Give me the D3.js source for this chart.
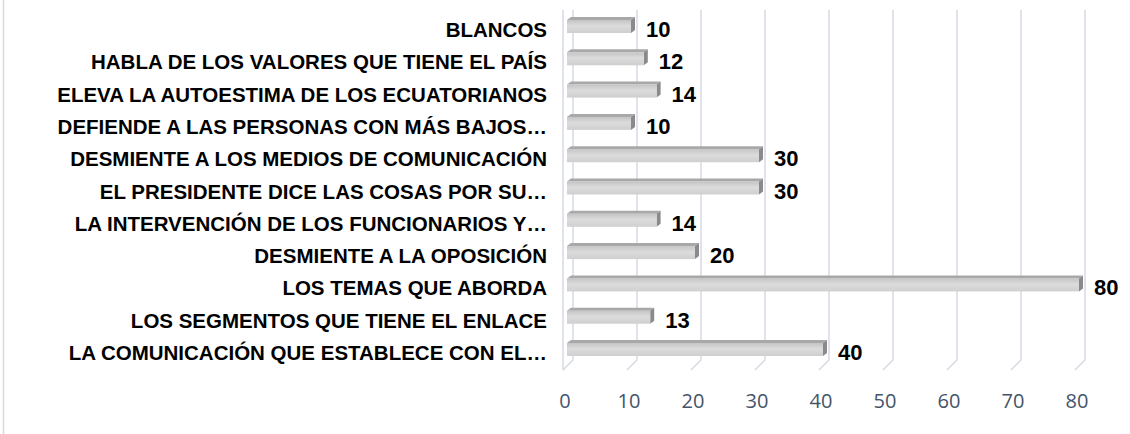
<!DOCTYPE html>
<html lang="es">
<head>
<meta charset="UTF-8">
<title>Chart</title>
<script src="https://d3js.org/d3.v7.min.js"></script>
<style>
    body { margin: 0; background: #fff; }
    .cat { font-family: "Liberation Sans", Arial, sans-serif; font-weight: bold; fill: #000; }
    .val { font-family: "Liberation Sans", Arial, sans-serif; font-weight: bold; fill: #000; }
    .tick { font-family: "Open Sans", "Noto Sans", sans-serif; fill: #44546a; }
</style>
</head>
<body>
<div id="chart"></div>
<script>
    // categories top to bottom, as in the picture
    const categories = [
        "BLANCOS",
        "HABLA DE LOS VALORES QUE TIENE EL PAÍS",
        "ELEVA LA AUTOESTIMA DE LOS ECUATORIANOS",
        "DEFIENDE A LAS PERSONAS CON MÁS BAJOS…",
        "DESMIENTE A LOS MEDIOS DE COMUNICACIÓN",
        "EL PRESIDENTE DICE LAS COSAS POR SU…",
        "LA INTERVENCIÓN DE LOS FUNCIONARIOS Y…",
        "DESMIENTE A LA OPOSICIÓN",
        "LOS TEMAS QUE ABORDA",
        "LOS SEGMENTOS QUE TIENE EL ENLACE",
        "LA COMUNICACIÓN QUE ESTABLECE CON EL…"
    ];
    const values = [10, 12, 14, 10, 30, 30, 14, 20, 80, 13, 40];
    const ticks = [0, 10, 20, 30, 40, 50, 60, 70, 80];

    const width = 1130, height = 434;
    const frontX = 563, backX = 573, barX = 567;
    const wallTop = 10, wallBottom = 360, depth = 10;

    const svg = d3.select("#chart").append("svg")
        .attr("width", width).attr("height", height);

    const x = d3.scaleLinear().domain([0, 80]).range([0, 512]);
    const y = d3.scalePoint().domain(categories).range([30, 353]);

    // gradient for the front face of the 3D bars
    const defs = svg.append("defs");
    const gFront = defs.append("linearGradient").attr("id", "front")
        .attr("x1", 0).attr("y1", 0).attr("x2", 0).attr("y2", 1);
    gFront.append("stop").attr("offset", "0%").attr("stop-color", "#c4c4c4");
    gFront.append("stop").attr("offset", "45%").attr("stop-color", "#dcdcdc");
    gFront.append("stop").attr("offset", "100%").attr("stop-color", "#cfcfcf");

    // outer chart border (left edge only visible)
    svg.append("line")
        .attr("x1", 3.5).attr("x2", 3.5).attr("y1", 0).attr("y2", height)
        .attr("stroke", "#d9d9d9").attr("stroke-width", 1.5);

    // back wall gridlines with floor feet
    const grid = svg.append("g").attr("fill", "none")
        .attr("stroke", "#d6dae3").attr("stroke-width", 1.5);
    grid.selectAll("path").data(ticks).join("path")
        .attr("d", d => {
            const bx = backX + x(d);
            return `M${bx},${wallTop}V${wallBottom}L${bx - depth},${wallBottom + depth}`;
        });
    // left wall front edge
    grid.append("line")
        .attr("x1", frontX).attr("x2", frontX)
        .attr("y1", wallTop).attr("y2", wallBottom + depth);

    // bars
    const barH = 13, dx = 4, dy = 3;
    const bars = svg.append("g").selectAll("g").data(values).join("g");
    bars.append("path") // top face
        .attr("d", (d, i) => {
            const t = y(categories[i]) - 10, x1 = barX + x(d);
            return `M${barX},${t}L${barX + dx},${t - dy}L${x1 + dx},${t - dy}L${x1},${t}Z`;
        })
        .attr("fill", "#a8a8a8");
    bars.append("path") // side face
        .attr("d", (d, i) => {
            const t = y(categories[i]) - 10, x1 = barX + x(d);
            return `M${x1},${t}L${x1 + dx},${t - dy}L${x1 + dx},${t - dy + barH}L${x1},${t + barH}Z`;
        })
        .attr("fill", "#8a8a8a");
    bars.append("rect") // front face
        .attr("x", barX)
        .attr("y", (d, i) => y(categories[i]) - 10)
        .attr("width", d => x(d))
        .attr("height", barH)
        .attr("fill", "url(#front)");

    // value labels
    svg.append("g").selectAll("text").data(values).join("text")
        .attr("class", "val")
        .attr("x", d => barX + x(d) + dx + 11)
        .attr("y", (d, i) => y(categories[i]) + 7)
        .attr("font-size", 22)
        .text(d => d);

    // category labels
    svg.append("g").selectAll("text").data(categories).join("text")
        .attr("class", "cat")
        .attr("x", 547)
        .attr("y", d => y(d) + 7)
        .attr("text-anchor", "end")
        .attr("font-size", 20.5)
        .text(d => d);

    // x axis tick labels
    svg.append("g").selectAll("text").data(ticks).join("text")
        .attr("class", "tick")
        .attr("x", d => frontX + 2 + x(d))
        .attr("y", 408)
        .attr("text-anchor", "middle")
        .attr("font-size", 20)
        .text(d => d);
</script>
</body>
</html>
